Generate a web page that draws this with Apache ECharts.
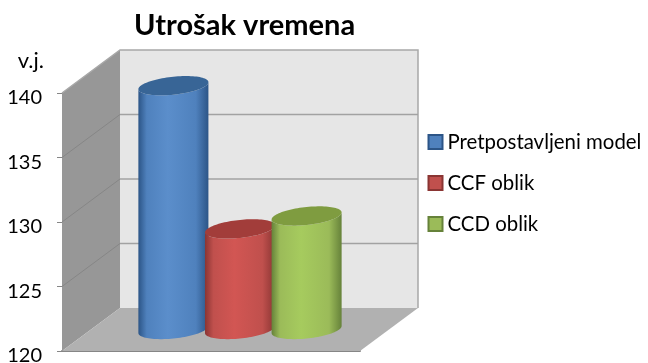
<!DOCTYPE html>
<html><head><meta charset="utf-8">
<style>html,body{margin:0;padding:0;background:#fff}#c{width:648px;height:363px}</style>
<script src="https://cdn.jsdelivr.net/npm/echarts@6/dist/echarts.min.js"></script>
</head><body><div id="c"></div>
<script>
var title = 'Utrošak vremena';
var unitLabel = 'v.j.';
var categories = [''];
var modelNames = ['Pretpostavljeni model', 'CCF oblik', 'CCD oblik'];
var modelValues = [138.9, 127.8, 128.8];
var axisTicks = [120, 125, 130, 135, 140];
var mainColors = ['#4f81bd', '#c0504d', '#9bbb59'];
var edgeColors = ['#2c5587', '#8a3533', '#66823a'];
var midColors = ['#5b8ecb', '#d25653', '#a6cb5e'];
var capColors = ['#386596', '#a23d3a', '#7f9c40'];
var DX = 58, DY = -43;

var chart = echarts.init(document.getElementById('c'), null, {renderer: 'canvas'});

function walls(params, api) {
  var cs = params.coordSys;
  var l = cs.x, r = cs.x + cs.width, t = cs.y, b = cs.y + cs.height;
  var kids = [
    {type: 'polygon', shape: {points: [[l, t], [l + DX, t + DY], [l + DX, b + DY], [l, b]]},
     style: {fill: '#979797'}},
    {type: 'polygon', shape: {points: [[l + DX, t + DY], [r + DX, t + DY], [r + DX, b + DY], [l + DX, b + DY]]},
     style: {fill: '#e6e6e6'}},
    {type: 'polygon', shape: {points: [[l, b], [l + DX, b + DY], [r + DX, b + DY], [r, b]]},
     style: {fill: '#b1b1b1'}},
    {type: 'polyline', shape: {points: [[l, t], [l + DX, t + DY], [r + DX, t + DY], [r + DX, b + DY]]},
     style: {fill: 'none', stroke: '#a8a8a8', lineWidth: 1.5}}
  ];
  axisTicks.forEach(function (v) {
    if (v === axisTicks[0] || v === axisTicks[axisTicks.length - 1]) return;
    var y = api.coord([0, v])[1];
    kids.push({type: 'polyline', shape: {points: [[l, y], [l + DX, y + DY]]},
      style: {fill: 'none', stroke: '#868686', lineWidth: 1}});
    kids.push({type: 'line', shape: {x1: l + DX, y1: y + DY, x2: r + DX, y2: y + DY},
      style: {stroke: '#a2a2a2', lineWidth: 1.5}});
  });
  return {type: 'group', children: kids};
}

function cylinder(idx) {
  return function (params, api) {
    var cat = api.coord([0, 120]);
    var top = api.coord([0, api.value(1)]);
    var band = api.size([1, 0])[0];
    var cx = cat[0] + DX / 2 + (idx - 1) * band * 0.2235;
    var rx = band * 0.1175, ry = 9, skew = -3.5;
    var yb = cat[1] + DY / 2, yt = top[1] + DY / 2;
    function pt(cy, a) {
      return [cx + rx * Math.cos(a), cy + ry * Math.sin(a) + skew * Math.cos(a)];
    }
    var body = [], cap = [], i, n = 48;
    for (i = 0; i <= n; i++) body.push(pt(yb, Math.PI - Math.PI * i / n));
    for (i = 0; i <= n; i++) body.push(pt(yt, Math.PI * i / n));
    for (i = 0; i < n * 2; i++) cap.push(pt(yt, Math.PI * i / n));
    return {type: 'group', children: [
      {type: 'polygon', shape: {points: body}, style: {
        fill: new echarts.graphic.LinearGradient(0, 0, 1, 0, [
          {offset: 0, color: edgeColors[idx]},
          {offset: 0.12, color: mainColors[idx]},
          {offset: 0.42, color: midColors[idx]},
          {offset: 0.82, color: mainColors[idx]},
          {offset: 1, color: edgeColors[idx]}
        ])
      }},
      {type: 'polygon', shape: {points: cap}, style: {fill: capColors[idx]}}
    ]};
  };
}

var series = [{type: 'custom', name: 'zidovi', silent: true, z: 1,
  data: [[0, 120]], renderItem: walls, encode: {x: 0, y: 1}}];
modelNames.forEach(function (name, i) {
  series.push({type: 'custom', name: name, z: 3 + i, renderItem: cylinder(i),
    data: [[0, modelValues[i]]], encode: {x: 0, y: 1},
    itemStyle: {color: mainColors[i], borderColor: edgeColors[i], borderWidth: 1}});
});

chart.setOption({
  animation: false,
  backgroundColor: '#fff',
  textStyle: {fontFamily: 'Lato'},
  title: {text: title, left: 129, top: 6,
    textStyle: {fontFamily: 'Lato', fontSize: 29, fontWeight: 'bold', color: '#000'}},
  legend: {data: modelNames, orient: 'vertical', left: 422.5, top: 127, itemWidth: 14, itemHeight: 14,
    itemGap: 21, icon: 'rect', textStyle: {fontFamily: 'Lato', fontSize: 20.4, lineHeight: 20, color: '#000'}},
  grid: {left: 62, top: 93, width: 298, height: 258, outerBoundsMode: 'none'},
  xAxis: {type: 'category', data: categories, axisLabel: {show: false}, axisTick: {show: false},
    axisLine: {lineStyle: {color: '#868686', width: 2}}},
  yAxis: {type: 'value', min: 120, max: 140, interval: 5, name: unitLabel, nameLocation: 'end', nameGap: 21,
    nameTextStyle: {fontFamily: 'Lato', fontSize: 22, color: '#000', align: 'right', padding: [0, 18, 0, 0]},
    axisLine: {show: true, lineStyle: {color: '#868686'}},
    axisTick: {show: true, length: 5, lineStyle: {color: '#868686'}},
    splitLine: {show: false},
    axisLabel: {fontFamily: 'Lato', fontSize: 20, color: '#000', margin: 20, verticalAlign: 'top',
      lineHeight: 30, height: 20, padding: [-10, 0, 0, 0]}},
  series: series
});
</script></body></html>
